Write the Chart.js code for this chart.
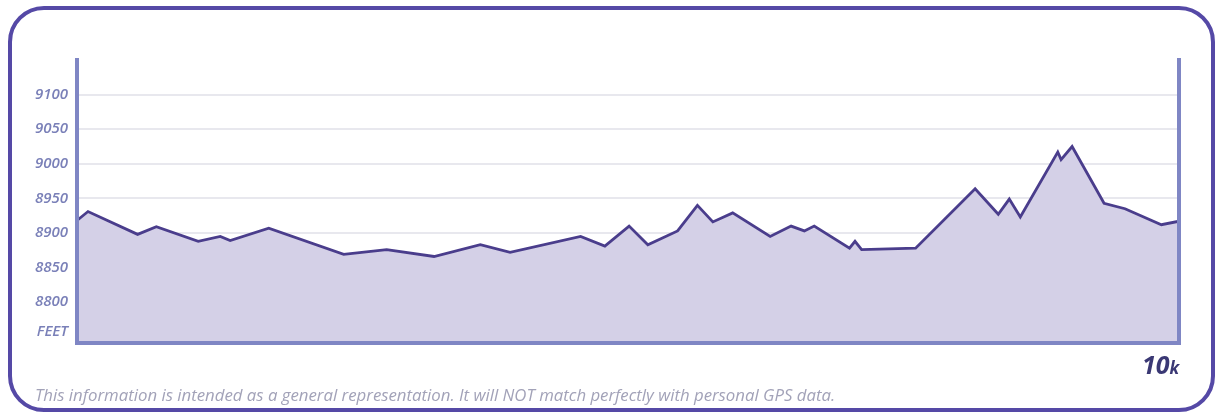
<!DOCTYPE html>
<html>
<head>
<meta charset="utf-8">
<script src="https://cdn.jsdelivr.net/npm/chart.js@4.4.1/dist/chart.umd.min.js"></script>
<style>
  html, body { margin: 0; padding: 0; background: #ffffff; }
  #wrap { width: 1220px; height: 414px; position: relative; }
</style>
</head>
<body>
<div id="wrap"><canvas id="elevationCanvas"></canvas></div>
<script>
// distance along the course (km) and elevation (feet)
const distanceKm = [0, 0.10, 0.55, 0.72, 1.10, 1.30, 1.39, 1.74, 2.42, 2.81, 3.24, 3.66, 3.93, 4.57, 4.79, 5.01, 5.18, 5.45, 5.63, 5.77, 5.95, 6.29, 6.48, 6.60, 6.69, 7.01, 7.06, 7.12, 7.61, 8.15, 8.36, 8.46, 8.56, 8.90, 8.93, 9.03, 9.32, 9.51, 9.84, 10];
const elevationFt = [8918, 8931, 8898, 8909, 8888, 8895, 8889, 8907, 8869, 8876, 8866, 8883, 8872, 8895, 8881, 8910, 8883, 8903, 8940, 8916, 8929, 8895, 8910, 8903, 8910, 8878, 8888, 8876, 8878, 8964, 8927, 8949, 8923, 9017, 9006, 9025, 8943, 8935, 8912, 8917];

const yTicks = [8800, 8850, 8900, 8950, 9000, 9050, 9100];
const feetTick = 8757;
const footerText = 'This information is intended as a general representation. It will NOT match perfectly with personal GPS data.';

const axisColor = '#7f86c4';
const tickColor = '#7a80b8';

// axis lines on top of the fill, frame, footer note and the 10k end label
const decorations = {
    id: 'decorations',
    afterDatasetsDraw(chart) {
        const ctx = chart.ctx;
        const a = chart.chartArea;
        ctx.save();
        ctx.strokeStyle = axisColor;
        ctx.lineWidth = 4;
        ctx.lineCap = 'square';
        ctx.beginPath();
        ctx.moveTo(a.left, a.top);
        ctx.lineTo(a.left, a.bottom);
        ctx.lineTo(a.right, a.bottom);
        ctx.lineTo(a.right, a.top);
        ctx.stroke();
        ctx.restore();
    },
    afterDraw(chart) {
        const ctx = chart.ctx;
        ctx.save();
        ctx.strokeStyle = '#5549a6';
        ctx.lineWidth = 4;
        ctx.beginPath();
        ctx.roundRect(10, 8, 1203, 402, 34);
        ctx.stroke();

        ctx.fillStyle = '#a2a2b8';
        ctx.font = 'italic 16.8px "Open Sans"';
        ctx.textBaseline = 'alphabetic';
        ctx.fillText(footerText, 35, 401);

        ctx.fillStyle = '#3a3874';
        ctx.font = 'italic 700 25px "Open Sans"';
        ctx.fillText('10', 1142, 374);
        const w = ctx.measureText('10').width;
        ctx.font = 'italic 700 17px "Open Sans"';
        ctx.fillText('k', 1142 + w, 374);
        ctx.restore();
    }
};

new Chart(document.getElementById('elevationCanvas'), {
    type: 'line',
    data: {
        labels: distanceKm,
        datasets: [{
            data: distanceKm.map((d, i) => ({ x: d, y: elevationFt[i] })),
            borderColor: '#4a3d8c',
            borderWidth: 2.8,
            backgroundColor: '#d4d0e7',
            fill: 'start',
            tension: 0,
            pointRadius: 0
        }]
    },
    options: {
        responsive: true,
        maintainAspectRatio: false,
        animation: false,
        layout: { padding: { left: 0, right: 41, top: 60, bottom: 71 } },
        plugins: { legend: { display: false }, tooltip: { enabled: false } },
        scales: {
            x: {
                type: 'linear',
                min: 0,
                max: 10,
                ticks: { display: false },
                grid: { display: false },
                border: { display: false },
                afterFit: (scale) => { scale.height = 0; }
            },
            y: {
                min: 8741,
                max: 9150,
                afterBuildTicks: (scale) => {
                    scale.ticks = [feetTick].concat(yTicks).map(v => ({ value: v }));
                },
                afterFit: (scale) => { scale.width = 77; },
                ticks: {
                    color: tickColor,
                    padding: 9,
                    font: { family: '"Open Sans"', size: 15, style: 'italic', weight: '600' },
                    callback: (v) => v === feetTick ? 'FEET' : String(v)
                },
                grid: {
                    drawTicks: false,
                    lineWidth: 2,
                    color: (c) => c.tick && c.tick.value === feetTick ? 'rgba(0,0,0,0)' : '#e8e8ee'
                },
                border: { display: false }
            },
            y2: {
                position: 'right',
                min: 8741,
                max: 9150,
                ticks: { display: false },
                grid: { display: false },
                border: { display: false },
                afterFit: (scale) => { scale.width = 0; }
            }
        }
    },
    plugins: [decorations]
});
</script>
</body>
</html>
